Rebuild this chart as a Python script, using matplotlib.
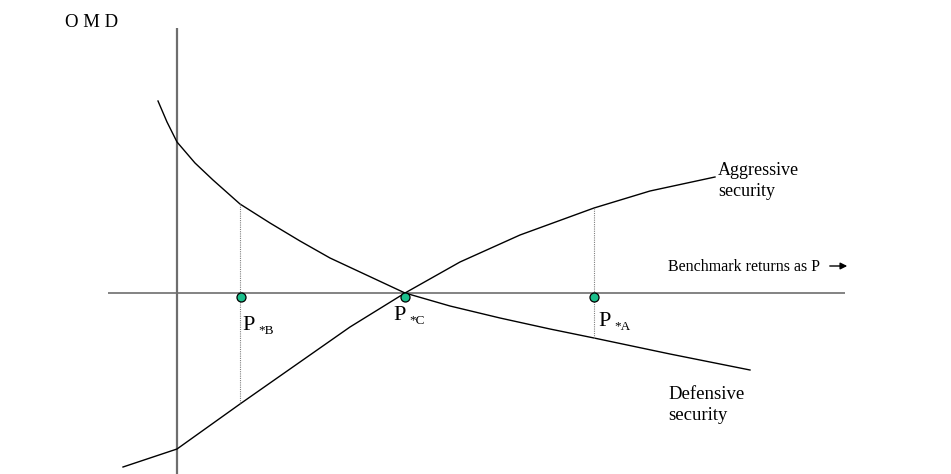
import numpy as np
import matplotlib.pyplot as plt

plt.rcParams['font.family'] = ['Liberation Serif', 'DejaVu Serif']

# curve points (P = benchmark return, OMD)
defensive_p = [-0.19, -0.10, 0.0, 0.18, 0.36, 0.63, 0.93, 1.23, 1.53, 1.83, 2.28,
               2.73, 3.23, 3.73, 4.17, 4.93, 5.73]
defensive_omd = [1.92, 1.71, 1.51, 1.30, 1.13, 0.89, 0.70, 0.52, 0.35, 0.21, 0.0,
                 -0.13, -0.25, -0.36, -0.45, -0.61, -0.77]

aggressive_p = [-0.54, 0.0, 0.63, 1.23, 1.73, 2.28, 2.83, 3.43, 4.17, 4.73, 5.38]
aggressive_omd = [-1.74, -1.56, -1.11, -0.69, -0.34, 0.0, 0.31, 0.58, 0.85, 1.02, 1.16]

# marked points on the P axis
point_p = [0.64, 2.28, 4.17]
point_names = ['B', 'C', 'A']
dropline_p = [0.63, 4.17]

fig = plt.figure(figsize=(9.51, 4.74), dpi=100)
ax = fig.add_axes([0, 0, 1, 1])
ax.set_xlim(-1.77, 7.74)
ax.set_ylim(-1.81, 2.93)
ax.axis('off')

# axes of the diagram
ax.plot([0, 0], [-1.81, 2.65], color='#6e6e6e', lw=1.6, solid_capstyle='butt')
ax.plot([-0.69, 6.68], [0, 0], color='#6e6e6e', lw=1.2, solid_capstyle='butt')

# the two securities
ax.plot(defensive_p, defensive_omd, color='black', lw=1.0)
ax.plot(aggressive_p, aggressive_omd, color='black', lw=1.0)

# dotted drop lines between the curves
for p in dropline_p:
    y1 = np.interp(p, defensive_p, defensive_omd)
    y2 = np.interp(p, aggressive_p, aggressive_omd)
    ax.plot([p, p], [y1, y2], color='#808080', lw=0.8, ls=(0, (1, 1)))

# green dots and their labels
for p, name in zip(point_p, point_names):
    ax.plot(p, -0.035, 'o', ms=6.5, mfc='#1bbf8c', mec='black', mew=0.9)
    if name == 'C':
        dx, dy = -0.12, -0.13
    elif name == 'A':
        dx, dy = 0.04, -0.19
    else:
        dx, dy = 0.01, -0.23
    ax.text(p + dx, dy, 'P', fontsize=16, va='top', ha='left')
    ax.text(p + dx + 0.16, dy - 0.09, '*' + name, fontsize=9.5, va='top', ha='left')

ax.text(-1.12, 2.66, 'O M D', fontsize=13.5, va='baseline')
ax.text(4.91, 0.22, 'Benchmark returns as P', fontsize=11.5, va='baseline')
ax.annotate('', xy=(6.73, 0.27), xytext=(6.50, 0.27),
            arrowprops=dict(arrowstyle='-|>', color='black', lw=1.0, mutation_scale=10))
ax.text(5.41, 1.31, 'Aggressive\nsecurity', fontsize=13, va='top', linespacing=1.3)
ax.text(4.91, -0.93, 'Defensive\nsecurity', fontsize=13.5, va='top', linespacing=1.3)

fig.savefig('out.png', dpi=100)
